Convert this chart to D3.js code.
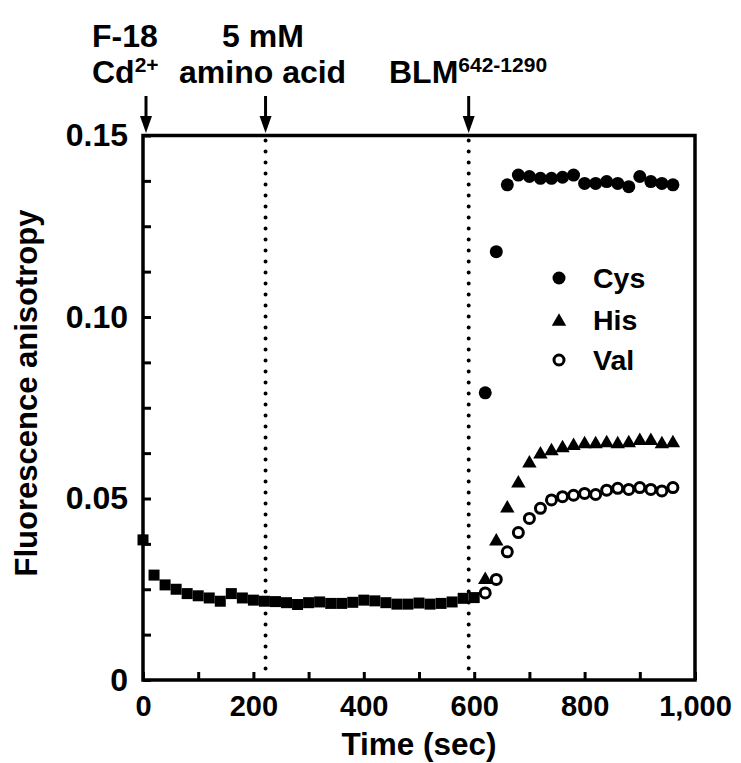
<!DOCTYPE html>
<html>
<head>
<meta charset="utf-8">
<script src="https://cdn.jsdelivr.net/npm/d3@7"></script>
<style>
  html, body { margin: 0; padding: 0; background: #fff; }
  svg { display: block; }
  text { font-family: "Liberation Sans", Arial, sans-serif; font-weight: bold; fill: #000; }
</style>
</head>
<body>
<svg id="chart" width="741" height="763"></svg>
<script>
// ---- data ----
const baseTimes = [0,20,40,60,80,100,120,140,160,180,200,220,240,260,280,300,320,340,360,380,400,420,440,460,480,500,520,540,560,580,600];
const baseValues = [0.0386,0.0289,0.0262,0.0250,0.0238,0.0232,0.0226,0.0217,0.0238,0.0226,0.0220,0.0217,0.0216,0.0213,0.0208,0.0213,0.0215,0.0211,0.0211,0.0214,0.0220,0.0218,0.0213,0.0209,0.0209,0.0212,0.0209,0.0211,0.0215,0.0225,0.0227];
const seriesTimes = [620,640,660,680,700,720,740,760,780,800,820,840,860,880,900,920,940,960];
const cysValues = [0.0791,0.1180,0.1364,0.1391,0.1387,0.1382,0.1382,0.1385,0.1391,0.1368,0.1368,0.1373,0.1368,0.1359,0.1387,0.1373,0.1368,0.1364];
const hisValues = [0.0280,0.0386,0.0477,0.0546,0.0601,0.0626,0.0635,0.0643,0.0649,0.0654,0.0654,0.0657,0.0654,0.0657,0.0663,0.0663,0.0654,0.0657];
const valValues = [0.0240,0.0277,0.0353,0.0406,0.0445,0.0473,0.0496,0.0505,0.0509,0.0514,0.0511,0.0523,0.0528,0.0525,0.0530,0.0525,0.0521,0.0530];
const xTicks = [0,200,400,600,800,1000];
const xTickLabels = ["0","200","400","600","800","1,000"];
const xMinorTicks = [100,300,500,700,900];
const yTicks = [0,0.05,0.10,0.15];
const yTickLabels = ["0","0.05","0.10","0.15"];
const yMinorTicks = [0.0125,0.025,0.0375,0.0625,0.075,0.0875,0.1125,0.125,0.1375];
const eventTimes = [0,222,590];
const dottedTimes = [222,590];
const legendNames = ["Cys","His","Val"];

// ---- layout ----
const L = 143, T = 135.5, R = 695, B = 680;
const svg = d3.select("#chart");
const x = d3.scaleLinear().domain([0,1000]).range([L,R]);
const y = d3.scaleLinear().domain([0,0.15]).range([B,T]);

// dotted lines
svg.append("g").selectAll("line").data(dottedTimes).join("line")
  .attr("x1", d=>x(d)).attr("x2", d=>x(d)).attr("y1", T+5).attr("y2", B-2)
  .attr("stroke","#000").attr("stroke-width",4).attr("stroke-linecap","round")
  .attr("stroke-dasharray","0 11");

// axes (inward ticks)
const tickLen = 8;
const xAxis = d3.axisBottom(x).tickValues(xTicks).tickFormat((d,i)=>xTickLabels[i]).tickSizeInner(-tickLen).tickSizeOuter(0).tickPadding(15);
const gx = svg.append("g").attr("transform",`translate(0,${B})`).call(xAxis);
const xMinor = d3.axisBottom(x).tickValues(xMinorTicks).tickFormat("").tickSizeInner(-tickLen).tickSizeOuter(0);
const gxm = svg.append("g").attr("transform",`translate(0,${B})`).call(xMinor);
const yAxis = d3.axisLeft(y).tickValues(yTicks).tickFormat((d,i)=>yTickLabels[i]).tickSizeInner(-tickLen).tickSizeOuter(0).tickPadding(15);
const gy = svg.append("g").attr("transform",`translate(${L},0)`).call(yAxis);
const yMinor = d3.axisLeft(y).tickValues(yMinorTicks).tickFormat("").tickSizeInner(-tickLen).tickSizeOuter(0);
const gym = svg.append("g").attr("transform",`translate(${L},0)`).call(yMinor);
[gx,gxm,gy,gym].forEach(g=>{
  g.select(".domain").remove();
  g.selectAll(".tick line").attr("stroke","#000").attr("stroke-width",3);
  g.selectAll(".tick text").style("font-family","Liberation Sans, Arial, sans-serif").style("font-weight","bold").attr("fill","#000");
});
gx.selectAll(".tick text").style("font-size","29px").attr("dy","0.71em");
gy.selectAll(".tick text").style("font-size","32px");
// frame
svg.append("rect").attr("x",L).attr("y",T).attr("width",R-L).attr("height",B-T)
  .attr("fill","none").attr("stroke","#000").attr("stroke-width",3.5);

// data: baseline squares
const sq = 11;
svg.append("g").selectAll("rect").data(baseTimes.map((t,i)=>[t,baseValues[i]])).join("rect")
  .attr("x", d=>x(d[0])-sq/2).attr("y", d=>y(d[1])-sq/2).attr("width",sq).attr("height",sq).attr("fill","#000");

const tri = d3.symbol().type(d3.symbolTriangle).size(90);
svg.append("g").selectAll("path").data(seriesTimes.map((t,i)=>[t,hisValues[i]])).join("path")
  .attr("d", tri).attr("transform", d=>`translate(${x(d[0])},${y(d[1])+1.5})`).attr("fill","#000");
svg.append("g").selectAll("circle").data(seriesTimes.map((t,i)=>[t,valValues[i]])).join("circle")
  .attr("cx", d=>x(d[0])).attr("cy", d=>y(d[1])).attr("r",5).attr("fill","#fff").attr("stroke","#000").attr("stroke-width",3);
svg.append("g").selectAll("circle").data(seriesTimes.map((t,i)=>[t,cysValues[i]])).join("circle")
  .attr("cx", d=>x(d[0])).attr("cy", d=>y(d[1])).attr("r",6.5).attr("fill","#000");

// legend
const lg = svg.append("g");
const legY = [278,320,360];
lg.append("circle").attr("cx",559).attr("cy",legY[0]).attr("r",6.5).attr("fill","#000");
lg.append("path").attr("d",tri).attr("transform",`translate(559,${legY[1]+1.5})`).attr("fill","#000");
lg.append("circle").attr("cx",559).attr("cy",legY[2]).attr("r",5).attr("fill","#fff").attr("stroke","#000").attr("stroke-width",3);
lg.selectAll("text").data(legendNames).join("text")
  .attr("x",593).attr("y",(d,i)=>legY[i]+10).style("font-size","28.5px").text(d=>d);

// axis titles
svg.append("text").attr("x",(L+R)/2).attr("y",755).attr("text-anchor","middle").style("font-size","31.5px").text("Time (sec)");
svg.append("text").attr("transform","translate(37,393) rotate(-90)").attr("text-anchor","middle").style("font-size","31px").text("Fluorescence anisotropy");

// annotations
const ann = svg.append("g");
const annSize = "32px", supSize = "21px";
ann.append("text").attr("x",92).attr("y",47).style("font-size",annSize).text("F-18");
ann.append("text").attr("x",222).attr("y",47).style("font-size",annSize).text("5 mM");
const t1 = ann.append("text").attr("x",92).attr("y",83).style("font-size",annSize);
t1.append("tspan").text("Cd");
t1.append("tspan").attr("dy",-11).style("font-size",supSize).text("2+");
ann.append("text").attr("x",179).attr("y",83).style("font-size",annSize).text("amino acid");
const t3 = ann.append("text").attr("x",389).attr("y",83).style("font-size",annSize);
t3.append("tspan").text("BLM");
t3.append("tspan").attr("dy",-11).style("font-size",supSize).text("642-1290");

// arrows
const ar = svg.append("g").selectAll("g").data(eventTimes).join("g").attr("transform",d=>`translate(${x(d)+ (d===0?3:0)},0)`);
ar.append("line").attr("x1",0).attr("x2",0).attr("y1",96).attr("y2",120).attr("stroke","#000").attr("stroke-width",3);
ar.append("path").attr("d","M-6,116 L6,116 L0,133 Z").attr("fill","#000");
</script>
</body>
</html>
